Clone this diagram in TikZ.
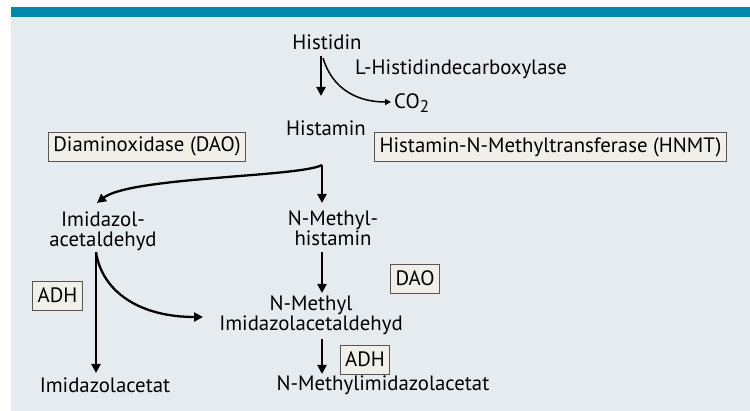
\documentclass[tikz,border=0pt]{standalone}
\usepackage{fontspec}
\setmainfont{PT Sans}
\usetikzlibrary{arrows.meta}
\definecolor{barblue}{RGB}{0,136,170}
\definecolor{bggray}{RGB}{230,235,240}
\definecolor{boxfill}{RGB}{240,240,233}
\definecolor{boxline}{RGB}{85,85,85}
\begin{document}
\begin{tikzpicture}[x=1pt,y=-1pt,
  lbl/.style={inner sep=0pt,font=\fontsize{20.8}{20}\selectfont,align=center},
  enz/.style={draw=boxline,fill=boxfill,line width=0.8pt,inner xsep=5pt,inner ysep=0pt,
    minimum height=29pt,font=\fontsize{20.8}{20}\selectfont},
  arr/.style={line width=2.6pt,-{Triangle[width=9pt,length=9pt]}},
  carr/.style={line width=2.3pt,-{Triangle[width=9pt,length=9pt]}},
  tarr/.style={line width=1.5pt,-{Triangle[width=6pt,length=6pt]}}]
\useasboundingbox (0,0) rectangle (750,411);
\fill[bggray] (11,17) rectangle (750,411);
\fill[barblue] (11,7) rectangle (750,17.5);
% texts
\node[lbl] (histidin) at (327,42) {Histidin};
\node[lbl] (decarb) at (461,69) {L-Histidindecarboxylase};
\node[lbl,anchor=west] (co2) at (394,103) {CO{\raisebox{-0.45ex}{\fontsize{17}{17}\selectfont 2}}};
\node[lbl] (histamin) at (326,128) {Histamin};
\node[enz] (dao1) at (147,146.5) {Diaminoxidase (DAO)};
\node[enz] (hnmt) at (550.5,147) {Histamin-N-Methyltransferase (HNMT)};
\node[lbl] (imid) at (103,231) {Imidazol-\\acetaldehyd};
\node[lbl] (nmh) at (333,228) {N-Methyl-\\histamin};
\node[enz] (adh1) at (57.5,295.5) {ADH};
\node[lbl] (imidac) at (105,385) {Imidazolacetat};
\node[enz] (dao2) at (415,278.5) {DAO};
\node[lbl] (nmia) at (311,315) {N-Methyl\\Imidazolacetaldehyd};
\node[enz] (adh2) at (365,359.5) {ADH};
\node[lbl] (nmiat) at (383,385) {N-Methylimidazolacetat};
% connector end points
\coordinate (h1) at (321,56);
\coordinate (h2) at (321,96);
\coordinate (c1) at (323,58);
\coordinate (c2) at (391,102);
\coordinate (m0) at (322,165);
\coordinate (m1) at (322,203);
\coordinate (l1) at (97,203);
\coordinate (a0) at (96,252);
\coordinate (a1) at (96,373);
\coordinate (b1) at (203,317);
\coordinate (n0) at (322,252);
\coordinate (n1) at (322,293);
\coordinate (p0) at (322,339);
\coordinate (p1) at (322,374);
% connectors
\draw[arr] (h1) -- (h2);
\draw[tarr] (c1) .. controls (332,88) and (356,102) .. (c2);
\draw[arr] (m0) -- (m1);
\draw[carr] (m0) .. controls (300,177) and (130,177) .. (l1);
\draw[arr] (a0) -- (a1);
\draw[carr] (a0) .. controls (102,292) and (140,317) .. (b1);
\draw[arr] (n0) -- (n1);
\draw[arr] (p0) -- (p1);
\end{tikzpicture}
\end{document}
